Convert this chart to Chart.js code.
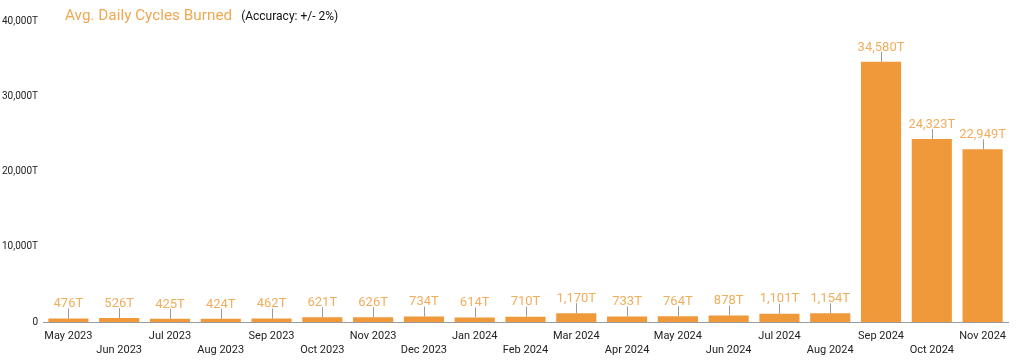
<!DOCTYPE html>
<html>
<head>
<meta charset="utf-8">
<script src="https://cdn.jsdelivr.net/npm/chart.js@4"></script>
<style>
  html, body { margin: 0; padding: 0; background: #fff; }
  #wrap { position: relative; width: 1024px; height: 362px; }
  #title { position: absolute; left: 65px; top: 5px; font-family: Roboto, sans-serif; white-space: nowrap; }
  #title .main { color: #f0a850; font-size: 15.3px; }
  #title .sub { color: #111; font-size: 12px; margin-left: 9px; }
</style>
</head>
<body>
<div id="wrap">
  <canvas id="chart" width="1024" height="362"></canvas>
  <div id="title"><span class="main">Avg. Daily Cycles Burned</span><span class="sub">(Accuracy: +/- 2%)</span></div>
</div>
<script>
const months = [
  'May 2023', 'Jun 2023', 'Jul 2023', 'Aug 2023', 'Sep 2023', 'Oct 2023', 'Nov 2023',
  'Dec 2023', 'Jan 2024', 'Feb 2024', 'Mar 2024', 'Apr 2024', 'May 2024', 'Jun 2024',
  'Jul 2024', 'Aug 2024', 'Sep 2024', 'Oct 2024', 'Nov 2024'
];
const cyclesBurned = [476, 526, 425, 424, 462, 621, 626, 734, 614, 710, 1170, 733, 764, 878, 1101, 1154, 34580, 24323, 22949];
const yTicks = [0, 10000, 20000, 30000, 40000];

const fmt = v => v.toLocaleString('en-US');

const barLabels = {
  id: 'barLabels',
  afterDatasetsDraw(chart) {
    const ctx = chart.ctx;
    const meta = chart.getDatasetMeta(0);
    ctx.save();
    ctx.font = '13px Roboto, sans-serif';
    ctx.textAlign = 'center';
    ctx.textBaseline = 'bottom';
    meta.data.forEach((bar, i) => {
      const top = bar.y;
      ctx.strokeStyle = '#9a9a9a';
      ctx.lineWidth = 1;
      ctx.beginPath();
      ctx.moveTo(Math.round(bar.x) + 0.5, top);
      ctx.lineTo(Math.round(bar.x) + 0.5, top - 10);
      ctx.stroke();
      ctx.fillStyle = '#f2ad5c';
      ctx.fillText(fmt(cyclesBurned[i]) + 'T', bar.x, top - 8);
    });
    ctx.restore();
  }
};

new Chart(document.getElementById('chart'), {
  type: 'bar',
  data: {
    labels: months,
    datasets: [{
      data: cyclesBurned,
      backgroundColor: '#f0993a',
      barPercentage: 0.79,
      categoryPercentage: 1.0,
    }],
  },
  options: {
    responsive: false,
    animation: false,
    layout: { padding: { top: 21, right: 16, left: 0, bottom: 0 } },
    plugins: { legend: { display: false }, tooltip: { enabled: false } },
    scales: {
      x: {
        afterFit: s => { s.height = 40; },
        grid: { display: false },
        border: { display: true, color: '#9a9a9a', width: 1 },
        ticks: {
          color: '#222',
          font: { family: 'Roboto, sans-serif', size: 11 },
          maxRotation: 0,
          autoSkip: false,
          padding: 0,
          callback: (v, i) => i % 2 === 0 ? months[i] : ['', months[i]],
        },
      },
      y: {
        min: 0,
        max: 40000,
        afterBuildTicks: s => { s.ticks = yTicks.map(v => ({ value: v })); },
        afterFit: s => { s.width = 43; },
        grid: { display: false, drawTicks: false, tickLength: 0 },
        border: { display: false },
        ticks: {
          color: '#222',
          font: { family: 'Roboto, sans-serif', size: 10 },
          padding: 5,
          callback: v => v === 0 ? '0' : fmt(v) + 'T',
        },
      },
    },
  },
  plugins: [barLabels],
});
</script>
</body>
</html>
